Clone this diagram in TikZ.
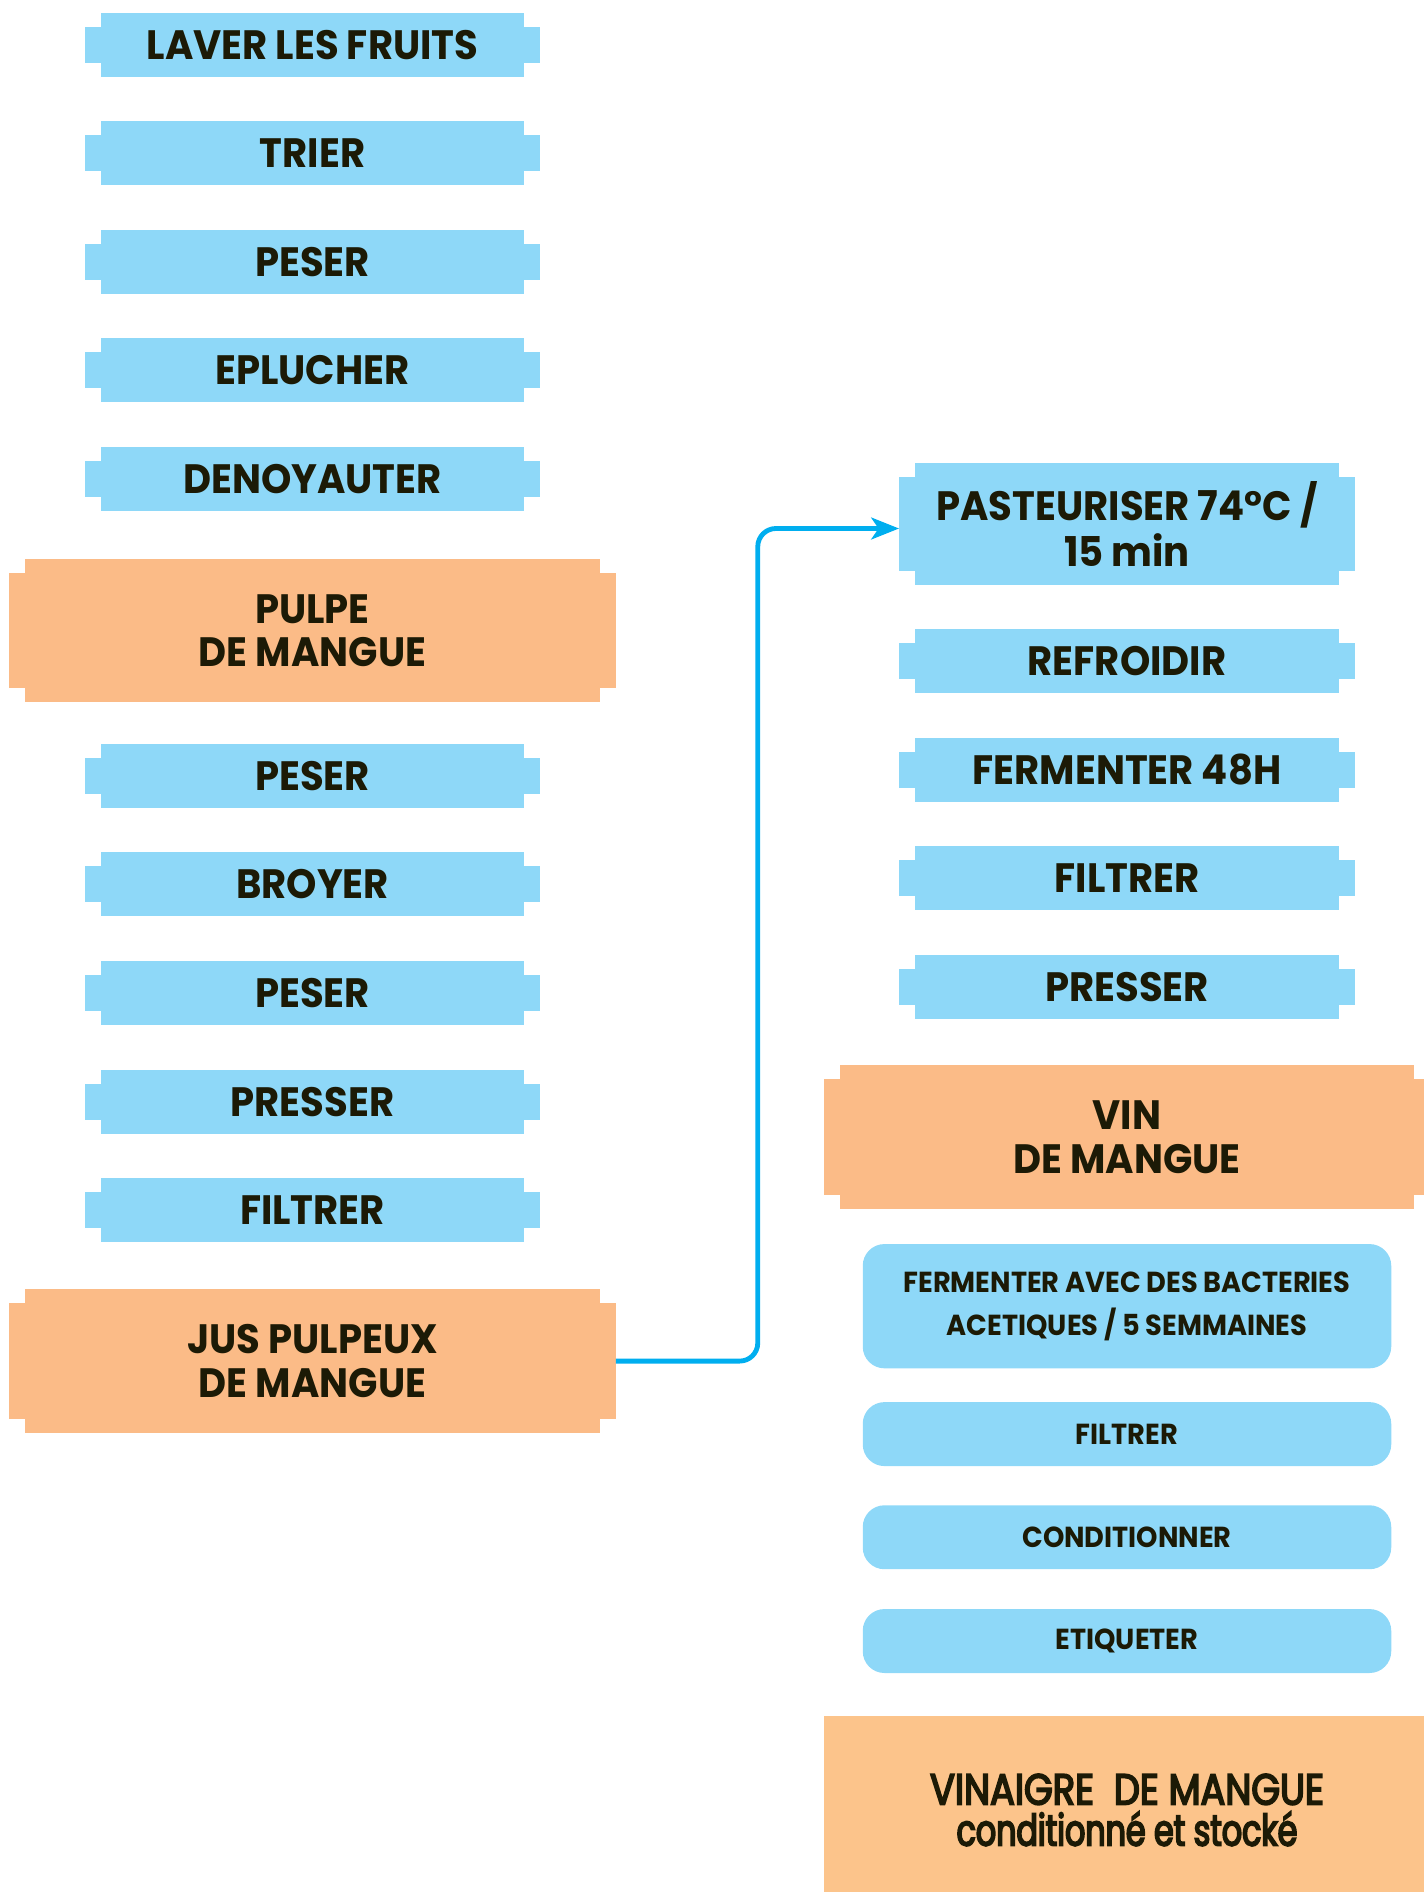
\documentclass[tikz,border=0pt]{standalone}
\usepackage{fontspec}
\setmainfont{Poppins}[FakeStretch=0.94]
\newfontfamily\moyen{Poppins}[FakeStretch=0.85,FakeBold=4]
\usetikzlibrary{arrows.meta}

\definecolor{bleu}{HTML}{8ED8F8}
\definecolor{peche}{HTML}{FBBB87}
\definecolor{peche2}{HTML}{FCC48B}
\definecolor{encre}{HTML}{1C1A06}
\definecolor{trait}{HTML}{00AEEF}

\tikzset{
  etape/.style={fill=bleu, text=encre, minimum width=175.5pt, minimum height=26.5pt,
    inner sep=0pt, align=center, font=\bfseries\fontsize{17}{19}\selectfont},
  produit/.style={fill=peche, text=encre, minimum width=238pt, minimum height=59.5pt,
    inner sep=0pt, align=center, font=\bfseries\fontsize{17}{18}\selectfont},
  arrondi/.style={fill=bleu, text=encre, rounded corners=9pt, minimum width=219pt,
    minimum height=26.5pt, inner sep=0pt, align=center, font=\bfseries\fontsize{12}{18}\selectfont},
  fleche/.style={draw=trait, line width=2pt, rounded corners=7.5pt,
    -{Stealth[length=11.5pt,width=9pt,inset=3pt]}},
}

\begin{document}
\begin{tikzpicture}[x=0.5pt, y=-0.5pt]
  \useasboundingbox (0,0) rectangle (1180,1568);

  % Left column: pulp and juice
  \node[etape] (laver) at (259,37) {LAVER LES FRUITS};
  \node[etape] (trier) at (259,127) {TRIER};
  \node[etape] (peser1) at (259,217) {PESER};
  \node[etape] (eplucher) at (259,307) {EPLUCHER};
  \node[etape] (denoyauter) at (259,397) {DENOYAUTER};
  \node[produit] (pulpe) at (259,522.5) {PULPE\\DE MANGUE};
  \node[etape] (peser2) at (259,643) {PESER};
  \node[etape] (broyer) at (259,733) {BROYER};
  \node[etape] (peser3) at (259,823) {PESER};
  \node[etape] (presser1) at (259,913) {PRESSER};
  \node[etape] (filtrer1) at (259,1003) {FILTRER};
  \node[produit] (jus) at (259,1128) {JUS PULPEUX\\DE MANGUE};

  % Right column: wine
  \node[etape, minimum height=50.5pt] (pasteuriser) at (934,434.5) {PASTEURISER 74°C /\\15 min};
  \node[etape] (refroidir) at (934,548) {REFROIDIR};
  \node[etape] (fermenter) at (934,638) {FERMENTER 48H};
  \node[etape] (filtrer2) at (934,728) {FILTRER};
  \node[etape] (presser2) at (934,818) {PRESSER};
  \node[produit] (vin) at (934,942.5) {VIN\\DE MANGUE};

  % Right column: vinegar
  \node[arrondi, minimum height=51.5pt] (acetique) at (934,1082.5)
    {FERMENTER AVEC DES BACTERIES\\ACETIQUES / 5 SEMMAINES};
  \node[arrondi] (filtrer3) at (934,1188.5) {FILTRER};
  \node[arrondi] (conditionner) at (934,1274) {CONDITIONNER};
  \node[arrondi] (etiqueter) at (934,1360) {ETIQUETER};
  \node[fill=peche2, text=encre, minimum width=251pt, minimum height=78pt, inner sep=0pt,
    align=center, font=\moyen\fontsize{18}{17}\selectfont]
    (vinaigre) at (934,1500) {VINAIGRE~ DE MANGUE\\
    {\addfontfeatures{FakeStretch=0.73}conditionné et stocké}};

  % Side tabs of the notched boxes
  \foreach \n/\c in {laver/bleu, trier/bleu, peser1/bleu, eplucher/bleu, denoyauter/bleu,
      pulpe/peche, peser2/bleu, broyer/bleu, peser3/bleu, presser1/bleu, filtrer1/bleu,
      jus/peche, pasteuriser/bleu, refroidir/bleu, fermenter/bleu, filtrer2/bleu,
      presser2/bleu, vin/peche} {
    \fill[\c] ([xshift=-6.5pt,yshift=-6pt]\n.north west) rectangle ([xshift=1pt,yshift=6pt]\n.south west);
    \fill[\c] ([xshift=6.5pt,yshift=-6pt]\n.north east) rectangle ([xshift=-1pt,yshift=6pt]\n.south east);
  }

  % Juice goes to pasteurisation
  \coordinate (coude) at (628,1128);
  \draw[fleche] ([xshift=6.5pt]jus.east) -- (coude) |- ([xshift=-6.5pt,yshift=-1.75pt]pasteuriser.west);
\end{tikzpicture}
\end{document}
